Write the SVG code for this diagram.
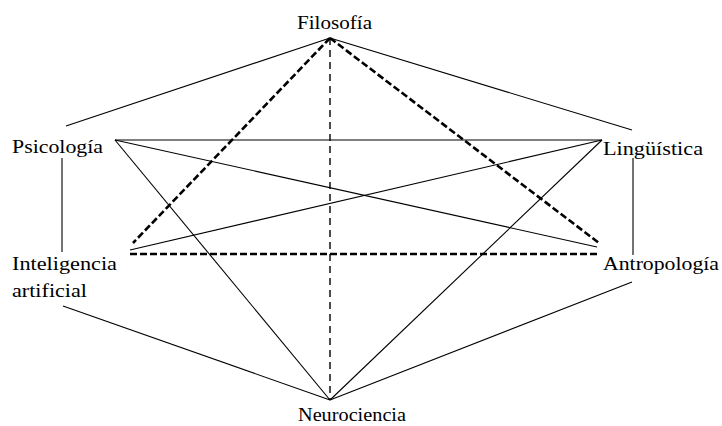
<svg xmlns="http://www.w3.org/2000/svg" width="722" height="426" viewBox="0 0 722 426">
<style>
text{font-family:'Liberation Serif','DejaVu Serif','Times New Roman',serif;font-size:19px;fill:#000}
.t{stroke:#000;stroke-width:1.1;fill:none}
.d{stroke:#000;stroke-width:2.6;fill:none;stroke-dasharray:7 3}
.v{stroke:#000;stroke-width:1.4;fill:none;stroke-dasharray:7 5}
</style>
<rect width="722" height="426" fill="#fff"/>
<g id="connectors">
<line class="t" x1="330" y1="38" x2="66" y2="126"/>
<line class="t" x1="330" y1="38" x2="632" y2="130"/>
<line class="t" x1="62" y1="158" x2="62" y2="252"/>
<line class="t" x1="633" y1="158" x2="633" y2="255"/>
<line class="t" x1="115" y1="140" x2="602" y2="140"/>
<line class="t" x1="115" y1="140" x2="597" y2="247"/>
<line class="t" x1="115" y1="140" x2="330" y2="400"/>
<line class="t" x1="602" y1="140" x2="130" y2="250"/>
<line class="t" x1="602" y1="140" x2="330" y2="400"/>
<line class="t" x1="63" y1="306" x2="330" y2="400"/>
<line class="t" x1="632" y1="282" x2="330" y2="400"/>
<line class="v" x1="330" y1="38" x2="330" y2="400"/>
<line class="d" x1="330" y1="38" x2="133" y2="243"/>
<line class="d" x1="330" y1="38" x2="599" y2="243"/>
<line class="d" x1="130" y1="254" x2="597" y2="254"/>
</g>
<g id="filosofia"><text x="297" y="29" font-family="Liberation Serif, DejaVu Serif, serif" textLength="75" lengthAdjust="spacingAndGlyphs">Filosofía</text></g>
<g id="psicologia"><text x="12" y="153" font-family="Liberation Serif, DejaVu Serif, serif" textLength="91" lengthAdjust="spacingAndGlyphs">Psicología</text></g>
<g id="linguistica"><text x="603" y="155" font-family="Liberation Serif, DejaVu Serif, serif" textLength="100" lengthAdjust="spacingAndGlyphs">Lingüística</text></g>
<g id="inteligencia"><text x="12" y="270" font-family="Liberation Serif, DejaVu Serif, serif" textLength="105" lengthAdjust="spacingAndGlyphs">Inteligencia</text><text x="12" y="297" font-family="Liberation Serif, DejaVu Serif, serif" textLength="75" lengthAdjust="spacingAndGlyphs">artificial</text></g>
<g id="antropologia"><text x="603" y="270" font-family="Liberation Serif, DejaVu Serif, serif" textLength="116" lengthAdjust="spacingAndGlyphs">Antropología</text></g>
<g id="neurociencia"><text x="298" y="421" font-family="Liberation Serif, DejaVu Serif, serif" textLength="108" lengthAdjust="spacingAndGlyphs">Neurociencia</text></g>
</svg>
